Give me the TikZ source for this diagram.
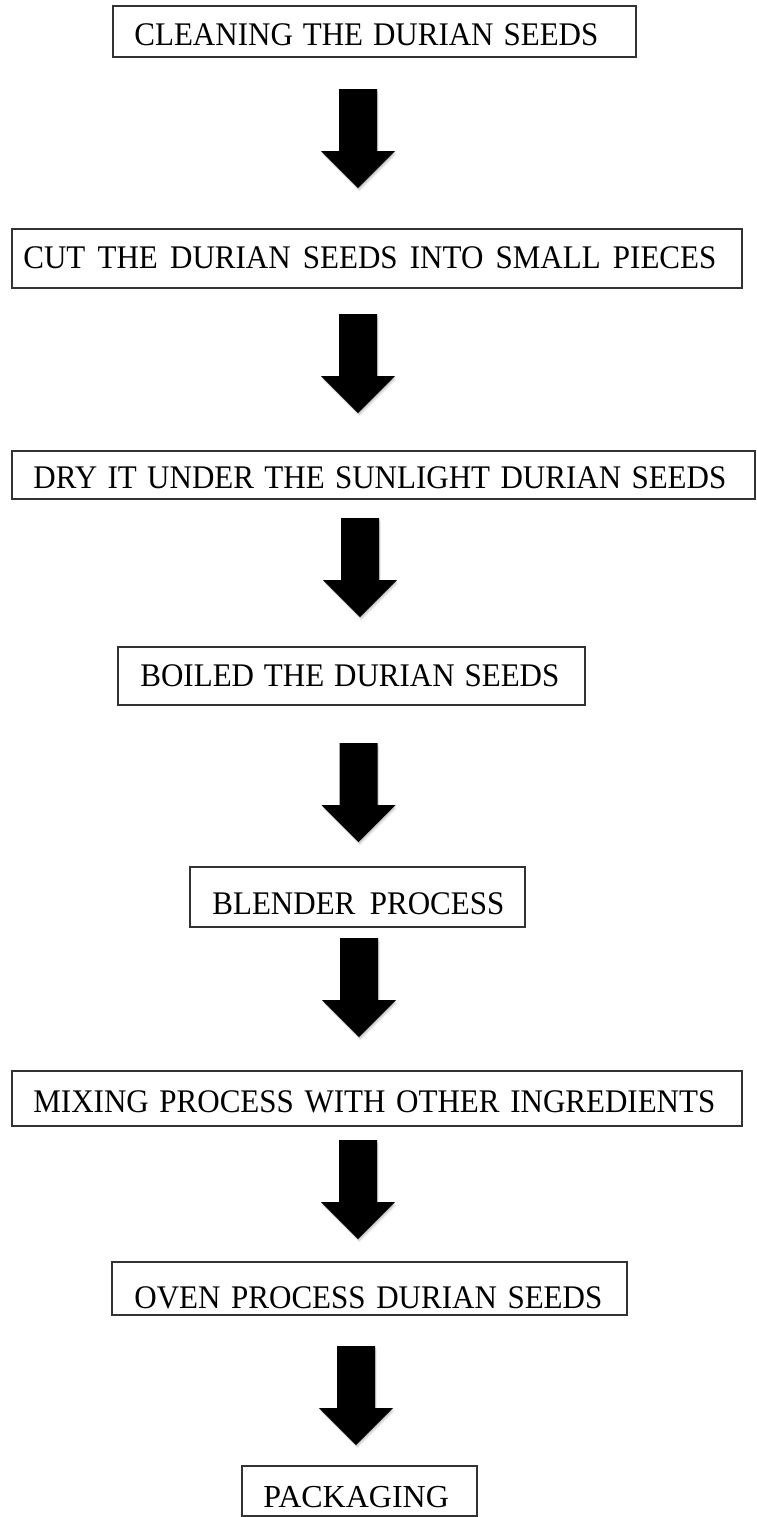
\documentclass[tikz,border=0pt]{standalone}
\usepackage{fontspec}
\setmainfont{Liberation Serif}[FakeStretch=0.94]
\newfontfamily\plainserif{Liberation Serif}
\begin{document}
\begin{tikzpicture}[x=0.5pt,y=-0.5pt,
  stepbox/.style={draw=black!80, line width=1pt, rectangle, inner sep=0pt, fill=none},
  lbl/.style={anchor=base west, inner sep=0pt, font=\fontsize{16.5pt}{19pt}\selectfont},
  downarrow/.pic={
    \foreach \s in {1,2,3}{
      \begin{scope}[shift={(0.5*\s,1.1*\s)}]
        \fill[black, opacity=0.08] (-19,0) -- (19,0) -- (19,62) -- (37,62) -- (0,99) -- (-37,62) -- (-19,62) -- cycle;
      \end{scope}
    }
    \fill[black] (-19,0) -- (19,0) -- (19,62) -- (37,62) -- (0,99) -- (-37,62) -- (-19,62) -- cycle;
  }]
\useasboundingbox (0,0) rectangle (756,1517);
\fill[white] (0,0) rectangle (756,1517);

% boxes
\node[stepbox, minimum width=261.5pt, minimum height=25.5pt] (b1) at (374.25,31.5) {};
\node[stepbox, minimum width=365pt, minimum height=29.5pt] (b2) at (377,258.5) {};
\node[stepbox, minimum width=371.5pt, minimum height=24pt] (b3) at (383.5,475) {};
\node[stepbox, minimum width=233.5pt, minimum height=29pt] (b4) at (351.5,676) {};
\node[stepbox, minimum width=167.5pt, minimum height=30pt] (b5) at (357.5,897) {};
\node[stepbox, minimum width=365pt, minimum height=27.5pt] (b6) at (377,1098.5) {};
\node[stepbox, minimum width=257.5pt, minimum height=26.5pt] (b7) at (369.5,1288.5) {};
\node[stepbox, minimum width=117.5pt, minimum height=25pt] (b8) at (359.5,1491) {};

% labels
\node[lbl] (t1) at (134,45) {\makebox[232pt][s]{CLEANING THE DURIAN SEEDS}};
\node[lbl] (t2) at (23,268) {\makebox[346.5pt][s]{CUT THE DURIAN SEEDS INTO SMALL PIECES}};
\node[lbl] (t3) at (33,488) {\makebox[346.5pt][s]{DRY IT UNDER THE SUNLIGHT DURIAN SEEDS}};
\node[lbl] (t4) at (140,686) {\makebox[209.5pt][s]{BOILED THE DURIAN SEEDS}};
\node[lbl] (t5) at (212,914) {\makebox[146pt][s]{BLENDER PROCESS}};
\node[lbl] (t6) at (33,1112) {\makebox[341pt][s]{MIXING PROCESS WITH OTHER INGREDIENTS}};
\node[lbl] (t7) at (134,1308) {\makebox[234pt][s]{OVEN PROCESS DURIAN SEEDS}};
\node[lbl] (t8) at (263,1507) {\plainserif\fontsize{16pt}{19pt}\selectfont PACKAGING};

% block arrows
\pic (a1) at (358,89) {downarrow};
\pic (a2) at (358,314) {downarrow};
\pic (a3) at (360,518) {downarrow};
\pic (a4) at (358.5,743) {downarrow};
\pic (a5) at (359,938) {downarrow};
\pic (a6) at (358,1140) {downarrow};
\pic (a7) at (356,1346) {downarrow};
\end{tikzpicture}
\end{document}
